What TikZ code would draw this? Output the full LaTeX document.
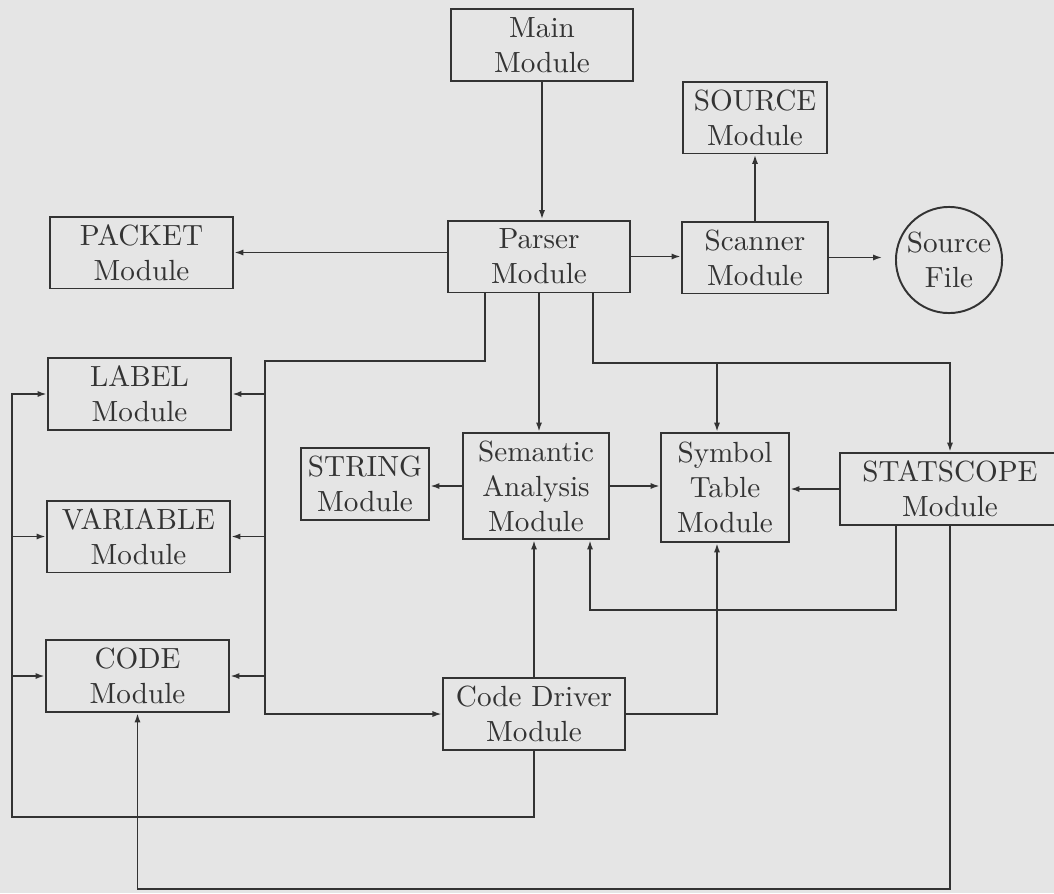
\documentclass[tikz,border=0pt]{standalone}
\usepackage{xcolor}
\usepackage{tikz}
\usetikzlibrary{positioning, arrows.meta, calc}
\definecolor{paper}{gray}{0.9}
\definecolor{ink}{gray}{0.2}

\begin{document}
\begin{tikzpicture}[x=0.36pt, y=-0.36pt, line width=0.7pt, color=ink,
  >={Latex[length=3.4pt,width=2.2pt]},
  every node/.style={inner sep=1pt, font=\fontsize{10.5}{12.6}\selectfont},
  box/.style={draw, rectangle, align=center, minimum height=25.9pt, minimum width=65.6pt}]
  \useasboundingbox (0,0) rectangle (1054,893);
  \fill[paper] (0,0) rectangle (1054,893);

  \node[box] (main) at (542,45) {Main\\Module};
  \node[box] (parser) at (539,256.5) {Parser\\Module};
  \node[box, minimum width=51.8pt] (source) at (755,117.5) {SOURCE\\Module};
  \node[box, minimum width=52.6pt] (scanner) at (755,257.5) {Scanner\\Module};
  \node[draw, circle, align=center, inner sep=0pt, minimum size=38.2pt] (srcfile) at (949,260) {Source\\File};
  \node[box, minimum width=65.9pt] (packet) at (141.5,252.5) {PACKET\\Module};
  \node[box, minimum width=65.9pt] (label) at (139.5,394) {LABEL\\Module};
  \node[box, minimum width=65.9pt] (variable) at (138.5,536.5) {VARIABLE\\Module};
  \node[box, minimum width=65.9pt] (code) at (137.5,676) {CODE\\Module};
  \node[box, minimum width=46.1pt] (string) at (365,484) {STRING\\Module};
  \node[box, minimum width=52.6pt, minimum height=38.2pt] (semantic) at (536,486) {Semantic\\Analysis\\Module};
  \node[box, minimum width=46.1pt, minimum height=39.2pt] (symbol) at (725,487.5) {Symbol\\Table\\Module};
  \node[box, minimum width=79.2pt] (statscope) at (950,489) {STATSCOPE\\Module};
  \node[box] (driver) at (534,714) {Code Driver\\Module};

  \coordinate (busL) at (265,361);
  \coordinate (busR) at (717,363);
  \coordinate (loopS) at (590,610);
  \coordinate (busO) at (12,817);
  \coordinate (busB) at (137.5,889);

  % parser and scanner
  \draw[->] (main.south) -- (main.south |- parser.north);
  \draw[->] (parser.east) -- (parser.east -| scanner.west);
  \draw[->] (scanner.north) -- (source.south);
  \draw[->, shorten >=4.5pt] (scanner.east) -- (scanner.east -| srcfile.west);
  \draw[->] (packet.east -| parser.west) -- (packet.east);

  % left bus from parser
  \draw[->] ($(parser.south)+(-54,0)$) |- (busL) |- (driver.west);
  \draw[->] (busL |- label) -- (label);
  \draw[->] (busL |- variable) -- (variable);
  \draw[->] (busL |- code) -- (code);

  % right bus from parser
  \draw[->] ($(parser.south)+(54,0)$) |- (statscope.north |- busR) -- (statscope.north);
  \draw[->] (busR) -- (busR |- symbol.north);
  \draw[->] (parser.south) -- (parser.south |- semantic.north);

  \draw[->] (semantic.west) -- (semantic.west -| string.east);
  \draw[->] (semantic.east) -- (semantic.east -| symbol.west);
  \draw[->] (statscope.west) -- (statscope.west -| symbol.east);

  % from STATSCOPE
  \draw[->] ($(statscope.south)+(-54,0)$) |- (loopS) -- (loopS |- semantic.south);
  \draw[->] (statscope.south) |- (busB) -- (code.south);

  % from code driver
  \draw[->] (driver.north) -- (driver.north |- semantic.south);
  \draw[->] (driver.east) -| (busR |- symbol.south);
  \draw[->] (driver.south) |- (busO) |- (label.west);
  \draw[->] (busO |- variable) -- (variable);
  \draw[->] (busO |- code) -- (code);
\end{tikzpicture}
\end{document}
